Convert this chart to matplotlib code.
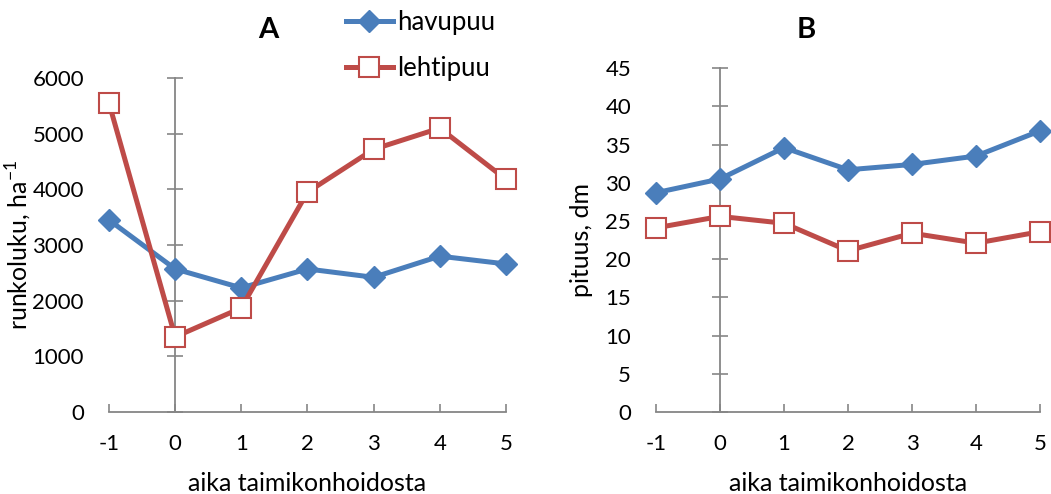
import matplotlib
matplotlib.use("Agg")
from matplotlib import pyplot as plt
import numpy as np

# data
aika = [-1, 0, 1, 2, 3, 4, 5]
runkoluku_havu = [3450, 2570, 2230, 2570, 2420, 2800, 2660]
runkoluku_lehti = [5550, 1350, 1870, 3950, 4720, 5100, 4180]
pituus_havu = [28.7, 30.5, 34.6, 31.7, 32.4, 33.5, 36.8]
pituus_lehti = [24.1, 25.6, 24.7, 21.1, 23.4, 22.1, 23.6]

yticks_a = np.arange(0, 6001, 1000)
yticks_b = np.arange(0, 46, 5)

plt.rcParams["font.family"] = ["Lato", "DejaVu Sans"]
BLUE = "#4A7EBB"
RED = "#BE4B48"
GRAY = "#868686"

fig = plt.figure(figsize=(10.51, 4.94), dpi=100)
ax_a = fig.add_axes([0.1037, 0.166, 0.3777, 0.676])
ax_b = fig.add_axes([0.6242, 0.166, 0.3654, 0.696])


def style_axes(ax, yticks, ylabel, ylabelpad):
    ax.set_xlim(-1, 5)
    ax.set_ylim(yticks[0], yticks[-1])
    for s in ["top", "right"]:
        ax.spines[s].set_visible(False)
    ax.spines["left"].set_position(("data", 0))
    ax.spines["left"].set_color(GRAY)
    ax.spines["bottom"].set_color(GRAY)
    ax.spines["left"].set_linewidth(1.3)
    ax.spines["bottom"].set_linewidth(1.3)
    ax.set_xticks(aika)
    ax.set_xticklabels([str(v) for v in aika])
    ax.set_yticks(yticks)
    ax.tick_params(axis="x", direction="in", length=6, width=1.2, color=GRAY,
                   pad=16, labelsize=16)
    ax.tick_params(axis="y", direction="inout", length=11, width=1.2,
                   color=GRAY, labelleft=False)
    # labels at the left edge, not on the crossing spine
    sec = ax.secondary_yaxis(0.0)
    sec.spines["left"].set_visible(False)
    sec.set_yticks(yticks)
    sec.tick_params(length=0, pad=18, labelsize=16)
    sec.set_ylabel(ylabel, fontsize=18, labelpad=ylabelpad)
    ax.set_xlabel("aika taimikonhoidosta", fontsize=18, labelpad=13)


def draw(ax, havu, lehti):
    ax.plot(aika, havu, color=BLUE, lw=3.6, marker="D", ms=11,
            mfc=BLUE, mec=BLUE, clip_on=False, zorder=4, label="havupuu")
    ax.plot(aika, lehti, color=RED, lw=3.6, marker="s", ms=14,
            mfc="white", mec=RED, mew=1.5, clip_on=False, zorder=5,
            label="lehtipuu")


draw(ax_a, runkoluku_havu, runkoluku_lehti)
draw(ax_b, pituus_havu, pituus_lehti)
style_axes(ax_a, yticks_a, "runkoluku, ha$^{\\mathregular{-1}}$", -1)
style_axes(ax_b, yticks_b, "pituus, dm", 9)

fig.text(0.255, 0.939, "A", fontsize=21, fontweight="bold", ha="center", va="center")
fig.text(0.767, 0.939, "B", fontsize=21, fontweight="bold", ha="center", va="center")

h, l = ax_a.get_legend_handles_labels()
fig.legend(h, l, loc="upper left", bbox_to_anchor=(0.319, 1.0), frameon=False,
           fontsize=18.5, handlelength=1.85, handletextpad=0.15, labelspacing=0.82,
           borderaxespad=0)

fig.savefig("out.png", dpi=100)
